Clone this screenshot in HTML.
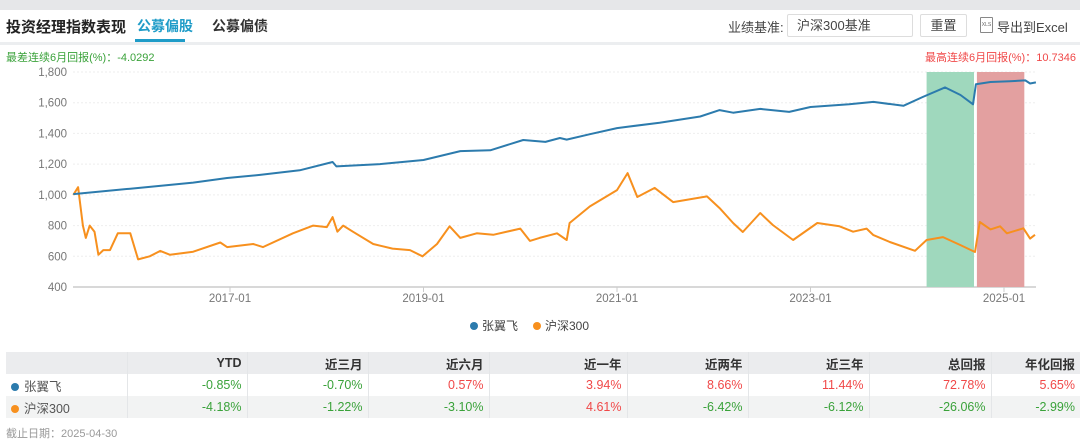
<!DOCTYPE html>
<html><head><meta charset="utf-8">
<style>
body{margin:0;width:1080px;height:445px;background:#fff;font-family:"Liberation Sans","Noto Sans CJK SC",sans-serif;position:relative;overflow:hidden}
.abs{position:absolute}
.top{left:0;top:0;width:1080px;height:10px;background:#e6e7e9}
.sep{left:0;top:42px;width:1080px;height:3px;background:#eceef0}
table{position:absolute;left:6px;top:352px;border-collapse:collapse;font-size:12.5px}
td{height:22px;padding:0 5px;text-align:right;border-right:1px solid #e4e6e8;box-sizing:border-box}
td:last-child{border-right:none}
.g{color:#3aa23a}.r{color:#f04848}
</style></head><body>
<div class="abs top"></div>
<div class="abs" style="left:6px;top:16px;font-size:15px;font-weight:bold;color:#222">投资经理指数表现</div>
<div class="abs" style="left:137px;top:16px;font-size:14px;font-weight:bold;color:#1f9cc8">公募偏股</div>
<div class="abs" style="left:135px;top:39px;width:50px;height:3px;background:#1f9cc8"></div>
<div class="abs" style="left:212px;top:16px;font-size:14px;font-weight:bold;color:#333">公募偏债</div>
<div class="abs" style="left:728px;top:17px;font-size:13px;color:#444">业绩基准:</div>
<div class="abs" style="left:787px;top:14px;width:126px;height:23px;border:1px solid #ddd;border-radius:2px;font-size:13px;color:#444;line-height:22px;padding-left:9px;box-sizing:border-box">沪深300基准</div>
<div class="abs" style="left:920px;top:14px;width:47px;height:23px;border:1px solid #ddd;border-radius:2px;font-size:13px;color:#444;line-height:22px;text-align:center;box-sizing:border-box">重置</div>
<div class="abs" style="left:980px;top:17px;width:11px;height:14px;border:1px solid #888;border-radius:1px;font-size:5px;line-height:14px;text-align:center;color:#666">XLS</div>
<div class="abs" style="left:997px;top:17px;font-size:13px;color:#444">导出到Excel</div>
<div class="abs sep"></div>
<div class="abs" style="left:6px;top:49px;font-size:11px;color:#3aa23a">最差连续6月回报(%)：-4.0292</div>
<div class="abs" style="right:4px;top:49px;font-size:11px;color:#f04848">最高连续6月回报(%)：10.7346</div>

<svg class="abs" style="left:0;top:0" width="1080" height="345" id="chart"></svg>

<table>
<tr style="background:#ebecee;font-weight:bold;color:#333">
<td style="width:121px"></td><td style="width:120px">YTD</td><td style="width:121px">近三月</td><td style="width:121px">近六月</td><td style="width:138px">近一年</td><td style="width:121px">近两年</td><td style="width:121px">近三年</td><td style="width:122px">总回报</td><td style="width:89px">年化回报</td></tr>
<tr><td style="text-align:left;color:#555"><span style="display:inline-block;width:8px;height:8px;border-radius:50%;background:#2c7bad;margin-right:5px"></span>张翼飞</td><td class="g">-0.85%</td><td class="g">-0.70%</td><td class="r">0.57%</td><td class="r">3.94%</td><td class="r">8.66%</td><td class="r">11.44%</td><td class="r">72.78%</td><td class="r">5.65%</td></tr>
<tr style="background:#f2f3f3"><td style="text-align:left;color:#555"><span style="display:inline-block;width:8px;height:8px;border-radius:50%;background:#f7901e;margin-right:5px"></span>沪深300</td><td class="g">-4.18%</td><td class="g">-1.22%</td><td class="g">-3.10%</td><td class="r">4.61%</td><td class="g">-6.42%</td><td class="g">-6.12%</td><td class="g">-26.06%</td><td class="g">-2.99%</td></tr>
</table>
<div class="abs" style="left:6px;top:425px;font-size:11px;color:#999">截止日期：2025-04-30</div>

<script>
const yTicks=[400,600,800,1000,1200,1400,1600,1800];
const xTickLabels=["2017-01","2019-01","2021-01","2023-01","2025-01"];
const xTickYears=[2017,2019,2021,2023,2025];
const mgrT=[2015.38,2015.97,2016.62,2016.97,2017.31,2017.72,2018.06,2018.10,2018.55,2019.0,2019.38,2019.69,2020.03,2020.26,2020.41,2020.48,2020.72,2021.0,2021.44,2021.86,2022.06,2022.2,2022.48,2022.78,2023.0,2023.4,2023.65,2023.96,2024.16,2024.39,2024.55,2024.68,2024.71,2024.86,2025.06,2025.22,2025.27,2025.33];
const mgrV=[1005,1040,1080,1110,1130,1160,1214,1185,1200,1227,1285,1290,1357,1345,1370,1360,1395,1435,1470,1510,1552,1535,1560,1540,1572,1590,1605,1580,1637,1700,1650,1590,1720,1735,1740,1745,1725,1732];
const idxT=[2015.38,2015.43,2015.48,2015.51,2015.55,2015.60,2015.64,2015.69,2015.76,2015.84,2015.97,2016.05,2016.17,2016.28,2016.38,2016.62,2016.90,2016.97,2017.24,2017.34,2017.65,2017.86,2018.00,2018.06,2018.11,2018.17,2018.27,2018.48,2018.68,2018.86,2018.99,2019.14,2019.27,2019.38,2019.55,2019.72,2020.00,2020.10,2020.20,2020.38,2020.48,2020.51,2020.72,2021.0,2021.11,2021.21,2021.39,2021.58,2021.93,2022.06,2022.20,2022.30,2022.48,2022.61,2022.82,2023.07,2023.30,2023.44,2023.58,2023.65,2023.82,2024.08,2024.20,2024.37,2024.55,2024.70,2024.75,2024.86,2024.96,2025.03,2025.20,2025.27,2025.32];
const idxV=[1000,1050,800,720,800,760,610,640,640,750,750,580,600,635,610,630,690,660,680,660,750,800,790,855,760,800,760,680,650,640,600,680,795,720,750,740,780,700,720,750,706,817,925,1031,1142,986,1045,953,990,914,817,758,882,804,706,817,795,760,780,738,693,636,706,725,673,628,823,775,795,750,782,715,740];
const bandWorst=[2024.20,2024.69];
const bandBest=[2024.72,2025.21];
const NS='http://www.w3.org/2000/svg';
const svg=document.getElementById('chart');
const X0=73,X1=1036,Y0=287,Y1=72;
function xs(t){return 230+(t-2017)*96.75;}
function ys(v){return Y0-(v-400)*(Y0-Y1)/1400;}
function mk(tag,attrs){const e=document.createElementNS(NS,tag);for(const k in attrs)e.setAttribute(k,attrs[k]);svg.appendChild(e);return e;}
yTicks.forEach(v=>{
  const l=mk('line',{x1:X0,x2:X1,y1:ys(v),y2:ys(v),stroke:v===400?'#ccc':'#eee','stroke-dasharray':v===400?'':'2,2','stroke-width':v===400?1.5:1});
  
  
  const t=mk('text',{x:67,y:ys(v)+4,'text-anchor':'end','font-size':11.5,fill:'#777'});
  t.textContent=v.toLocaleString('en-US');
  
  
});
xTickYears.forEach((yr,i)=>{
  const l=mk('line',{x1:xs(yr),x2:xs(yr),y1:Y0,y2:Y0+5,stroke:'#ccc'});
  
  
  const t=mk('text',{x:xs(yr),y:302,'text-anchor':'middle','font-size':11.5,fill:'#777'});
  t.textContent=xTickLabels[i];
  
  
});
const bw=mk('rect',{x:xs(bandWorst[0]),y:Y1,width:xs(bandWorst[1])-xs(bandWorst[0]),height:Y0-Y1,fill:'#9fd8bd'});


const bb=mk('rect',{x:xs(bandBest[0]),y:Y1,width:xs(bandBest[1])-xs(bandBest[0]),height:Y0-Y1,fill:'#e3a0a0'});


function line(T,V,color,name){
  const d=T.map((t,i)=>(i?'L':'M')+xs(t).toFixed(1)+','+ys(V[i]).toFixed(1)).join('');
  const p=mk('path',{d:d,fill:'none',stroke:color,'stroke-width':2,'stroke-linejoin':'round'});
  
  
}
line(idxT,idxV,'#f7901e','series-csi300');
line(mgrT,mgrV,'#2c7bad','series-manager');
const lg=[['张翼飞','#2c7bad',474],['沪深300','#f7901e',537]];
lg.forEach(([n,c,x])=>{
  const ci=mk('circle',{cx:x,cy:326,r:4,fill:c});
  
  
  const t=mk('text',{x:x+8,y:330,'font-size':12,fill:'#444'});
  t.textContent=n;
  
  
});
</script>
</body></html>
